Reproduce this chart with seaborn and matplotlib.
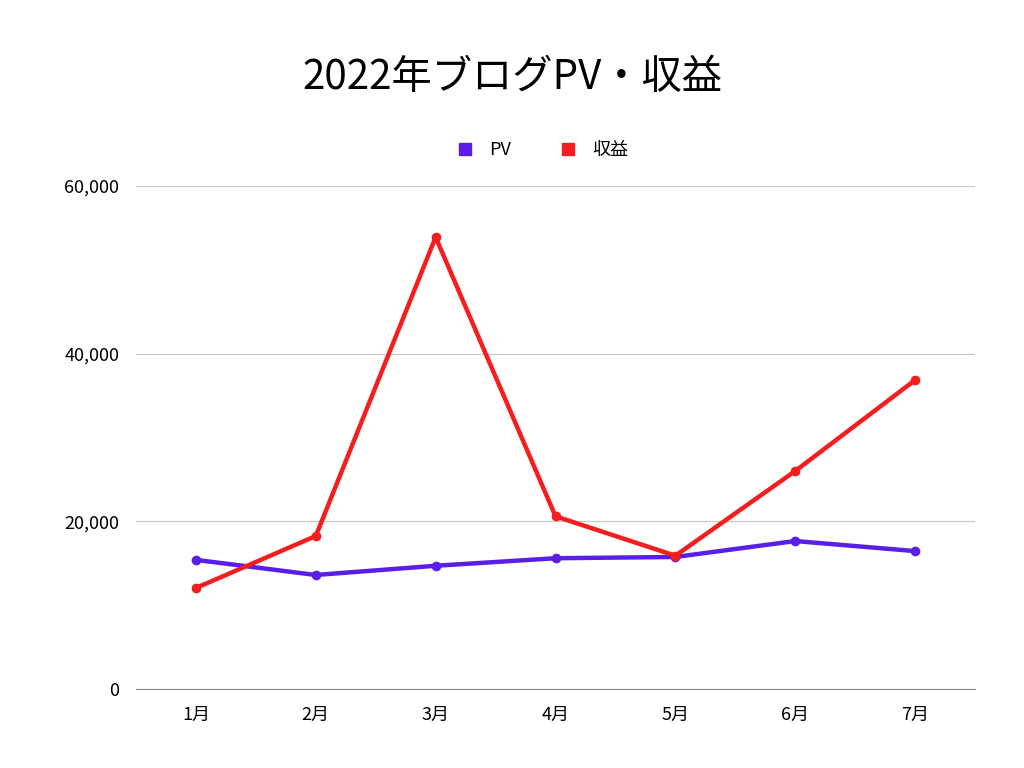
import pandas as pd
import matplotlib.pyplot as plt
import seaborn as sns
from matplotlib.ticker import FuncFormatter

months = ['1月', '2月', '3月', '4月', '5月', '6月', '7月']
pv = [15400, 13600, 14700, 15600, 15750, 17650, 16450]
revenue = [12050, 18250, 53900, 20600, 15900, 26000, 36850]

df = pd.DataFrame({'month': months * 2,
                   'value': pv + revenue,
                   'series': ['PV'] * 7 + ['収益'] * 7})

sns.set_style('white')
plt.rcParams['font.family'] = ['Noto Sans CJK JP']
plt.rcParams['text.color'] = 'black'
plt.rcParams['xtick.color'] = 'black'
plt.rcParams['ytick.color'] = 'black'

fig = plt.figure(figsize=(10.24, 7.68), dpi=100)
ax = fig.add_axes([136 / 1024, 1 - 689 / 768, (975 - 136) / 1024, (689 - 186) / 768])

palette = {'PV': '#5a1ee6', '収益': '#f51d1d'}
sns.lineplot(data=df, x='month', y='value', hue='series', palette=palette,
             marker='o', markersize=7, markeredgewidth=0, linewidth=3.2,
             sort=False, ax=ax, legend=False)

ax.set_ylim(0, 60000)
ax.set_xlim(-0.5, 6.5)
ax.set_yticks([0, 20000, 40000, 60000])
ax.yaxis.set_major_formatter(FuncFormatter(lambda v, p: f'{int(v):,}'))
ax.grid(axis='y', color='#c8c8c8', linewidth=0.9)
ax.set_axisbelow(True)
for s in ['top', 'right', 'left']:
    ax.spines[s].set_visible(False)
ax.spines['bottom'].set_color('#888888')
ax.tick_params(axis='both', length=0, labelsize=13, pad=12)
ax.set_xlabel('')
ax.set_ylabel('')

handles = [plt.Line2D([], [], marker='s', linestyle='', color=palette[k], markersize=8)
           for k in ['PV', '収益']]
fig.legend(handles, ['PV', '収益'], loc='center', bbox_to_anchor=(0.525, 1 - 150 / 768),
           ncol=2, frameon=False, fontsize=13, handletextpad=0.3, columnspacing=2.2)

fig.text(0.5, 1 - 78 / 768, '2022年ブログPV・収益', ha='center', va='center', fontsize=29)

fig.savefig('out.png', dpi=100)
